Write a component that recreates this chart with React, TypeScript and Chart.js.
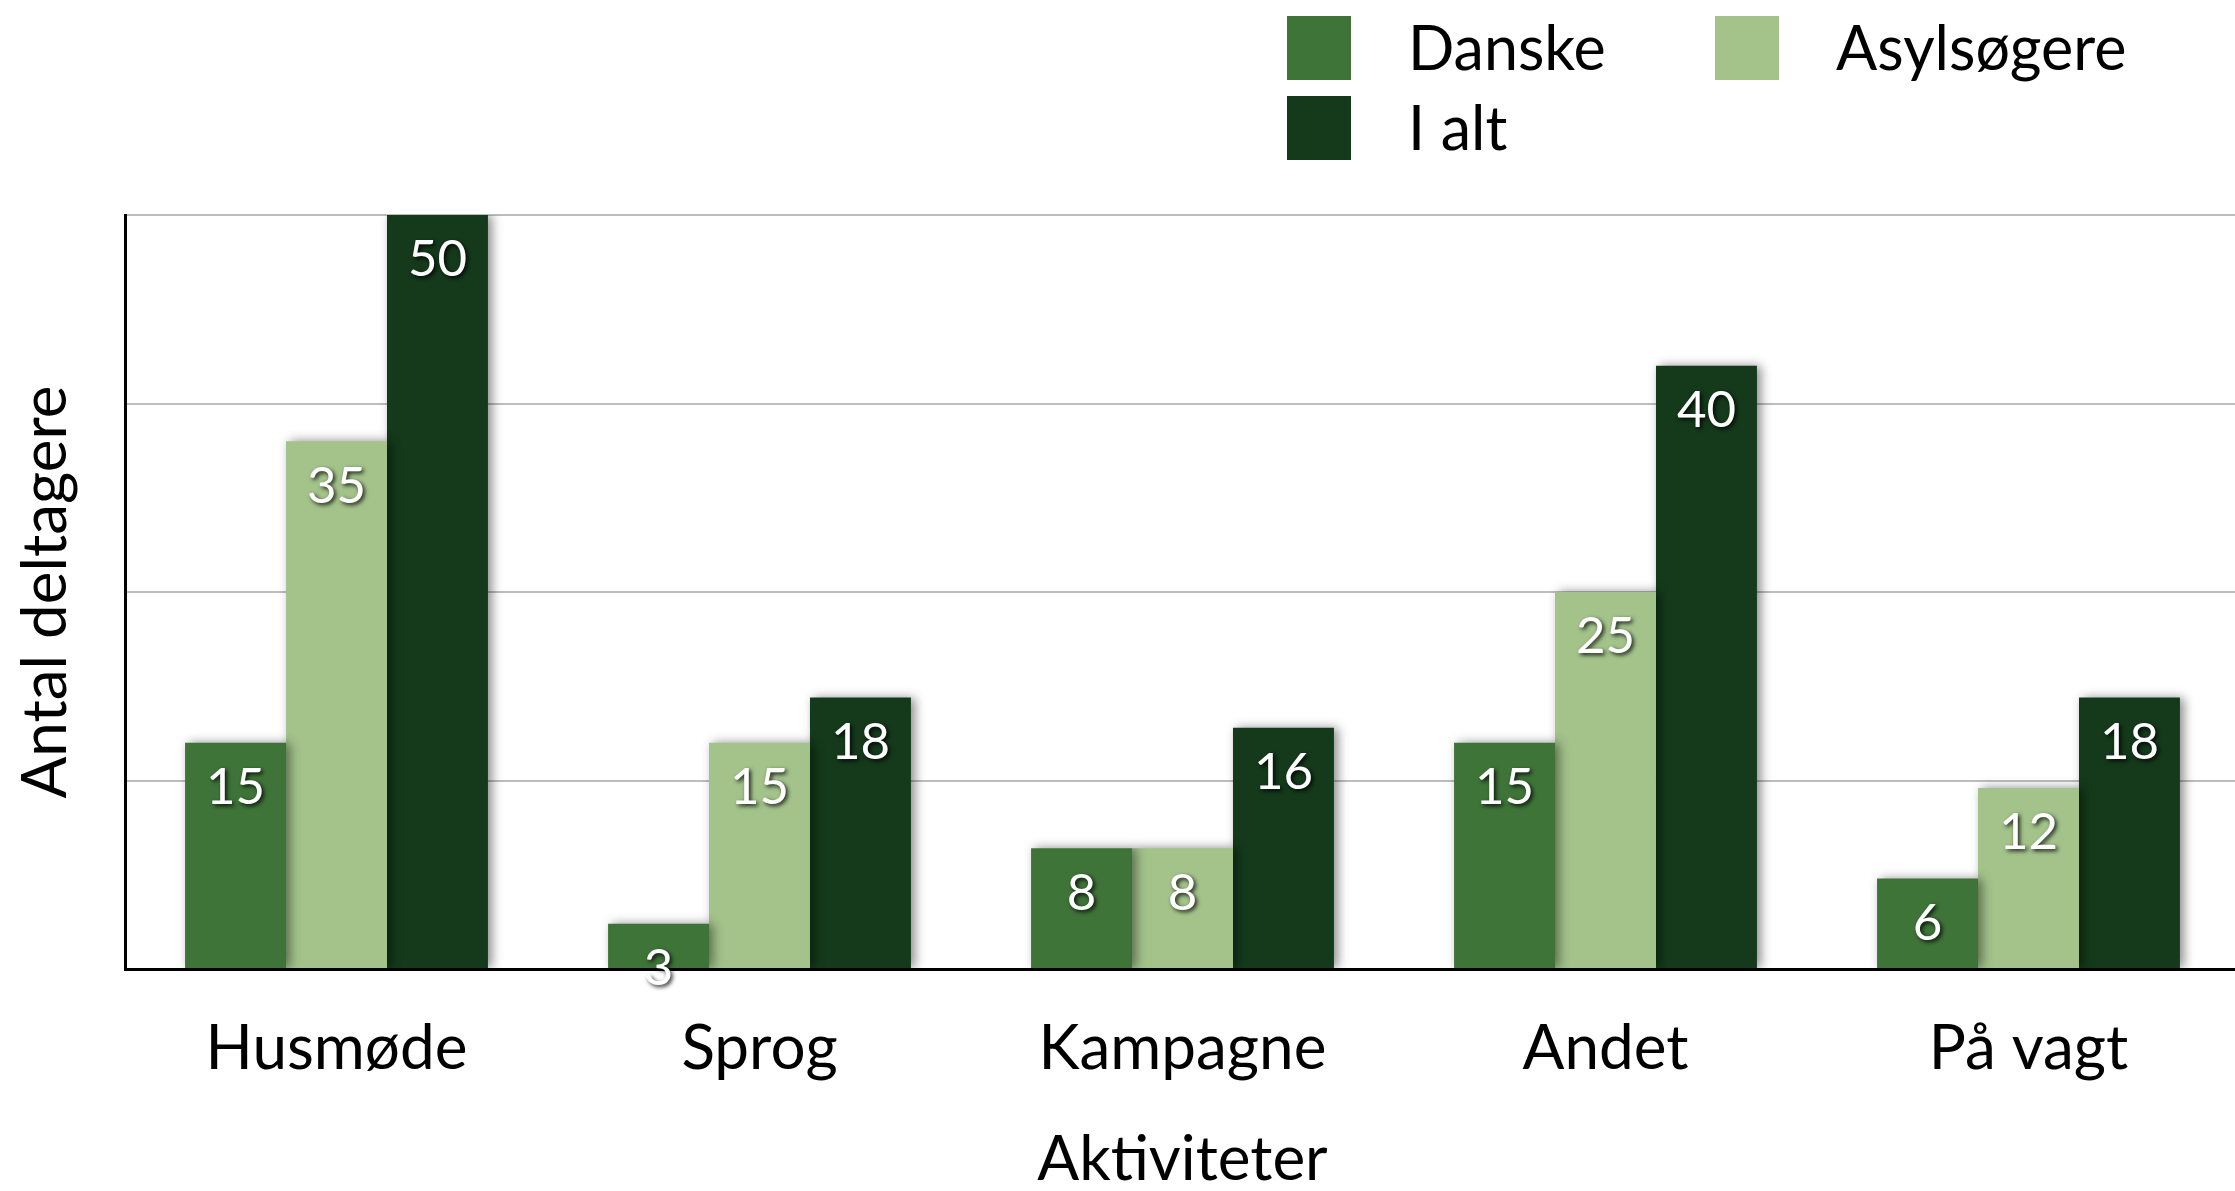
import React, { useEffect, useRef } from 'react';
import { Chart, registerables } from 'chart.js';

Chart.register(...registerables);

const categories = ['Husmøde', 'Sprog', 'Kampagne', 'Andet', 'På vagt'];
const danske = [15, 3, 8, 15, 6];
const asylsogere = [35, 15, 8, 25, 12];
const iAlt = [50, 18, 16, 40, 18];
const seriesNames = ['Danske', 'Asylsøgere', 'I alt'];
const seriesColors = ['#3f7439', '#a3c38b', '#143a1b'];
const yMin = 0;
const yMax = 50;
const yStep = 12.5;
const xTitle = 'Aktiviteter';
const yTitle = 'Antal deltagere';

const FONT = 'Lato';

const barShadow = {
  id: 'barShadow',
  beforeDatasetDraw(chart: any) {
    const ctx = chart.ctx;
    ctx.save();
    ctx.shadowColor = 'rgba(0,0,0,0.45)';
    ctx.shadowBlur = 10;
    ctx.shadowOffsetX = 4;
    ctx.shadowOffsetY = 0;
  },
  afterDatasetDraw(chart: any) {
    chart.ctx.restore();
  },
};

const valueLabels = {
  id: 'valueLabels',
  afterDatasetsDraw(chart: any) {
    const ctx = chart.ctx;
    ctx.save();
    ctx.font = `51px ${FONT}`;
    ctx.textAlign = 'center';
    ctx.textBaseline = 'middle';
    ctx.fillStyle = '#ffffff';
    ctx.shadowColor = 'rgba(0,0,0,0.85)';
    ctx.shadowBlur = 4;
    ctx.shadowOffsetX = 2;
    ctx.shadowOffsetY = 2;
    chart.data.datasets.forEach((ds: any, i: number) => {
      const meta = chart.getDatasetMeta(i);
      meta.data.forEach((bar: any, j: number) => {
        ctx.fillText(String(ds.data[j]), bar.x, bar.y + 45);
      });
    });
    ctx.restore();
  },
};

const customLegend = {
  id: 'customLegend',
  afterDraw(chart: any) {
    const ctx = chart.ctx;
    const spots = [
      { x: 1287, y: 16 },
      { x: 1715, y: 16 },
      { x: 1287, y: 96 },
    ];
    ctx.save();
    ctx.font = `61px ${FONT}`;
    ctx.textAlign = 'left';
    ctx.textBaseline = 'middle';
    chart.data.datasets.forEach((ds: any, i: number) => {
      const p = spots[i];
      if (!p) return;
      ctx.fillStyle = ds.backgroundColor;
      ctx.fillRect(p.x, p.y, 64, 64);
      ctx.fillStyle = '#000000';
      ctx.fillText(ds.label, p.x + 121, p.y + 34);
    });
    ctx.restore();
  },
};

export default function App() {
  const ref = useRef<HTMLCanvasElement | null>(null);

  useEffect(() => {
    if (!ref.current) return;
    const chart = new Chart(ref.current, {
      type: 'bar',
      data: {
        labels: categories,
        datasets: [
          { label: seriesNames[0], data: danske, backgroundColor: seriesColors[0] },
          { label: seriesNames[1], data: asylsogere, backgroundColor: seriesColors[1] },
          { label: seriesNames[2], data: iAlt, backgroundColor: seriesColors[2] },
        ],
      },
      options: {
        responsive: false,
        animation: false,
        devicePixelRatio: 1,
        layout: { padding: { top: 215, left: 0, right: 0, bottom: 0 } },
        datasets: { bar: { categoryPercentage: 0.716, barPercentage: 1 } },
        plugins: {
          legend: { display: false },
          tooltip: { enabled: false },
          title: { display: false },
        },
        scales: {
          x: {
            grid: { display: false, drawTicks: false },
            border: { display: true, color: '#000000', width: 3 },
            ticks: {
              color: '#000000',
              font: { family: FONT, size: 62 },
              padding: 43,
              maxRotation: 0,
              autoSkip: false,
            },
            title: {
              display: true,
              text: xTitle,
              color: '#000000',
              font: { family: FONT, size: 62, lineHeight: 1 },
              padding: 0,
            },
            afterFit: (s: any) => {
              s.height = 222;
            },
          },
          y: {
            min: yMin,
            max: yMax,
            ticks: { display: false, stepSize: yStep },
            grid: { color: '#bdbdbd', lineWidth: 2, drawTicks: false },
            border: { display: true, color: '#000000', width: 3 },
            title: {
              display: true,
              text: yTitle,
              color: '#000000',
              font: { family: FONT, size: 62, lineHeight: 1 },
              padding: { top: 15, bottom: 0 },
            },
            afterFit: (s: any) => {
              s.width = 125;
            },
          },
        },
      } as any,
      plugins: [barShadow, valueLabels, customLegend],
    });
    return () => chart.destroy();
  }, []);

  return (
    <div
      style={{
        position: 'absolute',
        left: 0,
        top: 0,
        width: 2235,
        height: 1191,
        overflow: 'hidden',
        background: '#ffffff',
      }}
    >
      <canvas ref={ref} width={2240} height={1191} style={{ display: 'block' }} />
    </div>
  );
}
